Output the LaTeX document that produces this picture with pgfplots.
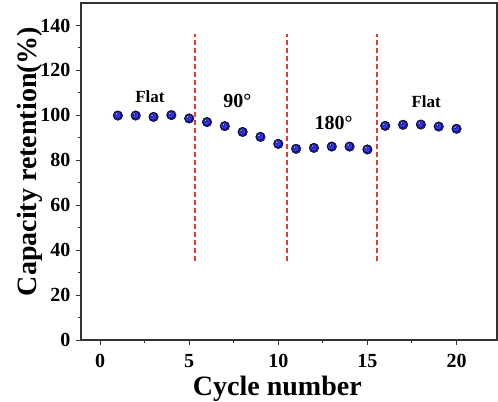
\documentclass[border=0pt]{standalone}
\usepackage{pgfplots}
\pgfplotsset{compat=1.18}
\usepackage{fontspec}
\setmainfont{Liberation Serif}
\definecolor{balldark}{RGB}{30,30,185}
\definecolor{ballmid}{RGB}{50,50,245}
\definecolor{balllight}{RGB}{185,185,255}
\definecolor{cutred}{RGB}{228,60,52}
\pgfplotstableread{
x y
1 99.9
2 99.9
3 99.3
4 100.1
5 98.6
6 97.0
7 95.2
8 92.6
9 90.4
10 87.3
11 85.1
12 85.5
13 86.1
14 86.1
15 84.8
16 95.3
17 95.8
18 95.9
19 95.0
20 94.0
}\retention
\begin{document}
\begin{tikzpicture}
\begin{axis}[
  scale only axis,
  width=416bp, height=337bp,
  xmin=-1.07, xmax=22.27, ymin=0, ymax=150,
  xtick={0,5,10,15,20}, ytick={0,20,...,140},
  minor x tick num=1, minor y tick num=1,
  tick align=outside,
  major tick length=5bp, minor tick length=3bp,
  xtick pos=bottom, ytick pos=left,
  axis line style={line width=1.1pt, black!80},
  tick style={line width=1pt, black!80},
  /pgf/number format/assume math mode=true,
  ticklabel style={font=\fontsize{20bp}{24bp}\selectfont\bfseries},
  xticklabel style={yshift=-6bp},
  yticklabel style={xshift=-2bp},
  xlabel={Cycle number},
  ylabel={Capacity retention(\%)},
  label style={font=\fontsize{28bp}{32bp}\selectfont\bfseries},
  xlabel style={at={(axis description cs:0.472,0)}, anchor=base, yshift=-55bp},
  ylabel style={at={(axis description cs:0,0.53)}, anchor=base, yshift=44bp},
  clip=false,
]
% dashed separators
\addplot[draw=cutred, line width=1.5bp, dash pattern=on 5bp off 3bp] coordinates {(5.33,35)(5.33,136)};
\addplot[draw=cutred, line width=1.5bp, dash pattern=on 5bp off 3bp] coordinates {(10.49,35)(10.49,136)};
\addplot[draw=cutred, line width=1.5bp, dash pattern=on 5bp off 3bp] coordinates {(15.55,35)(15.55,136)};
% spheres, built from layered circles
\addplot[only marks, mark=*, mark size=4.8bp, mark options={draw=none, fill=balldark}] table {\retention};
\addplot[only marks, mark=*, mark size=3.8bp, mark options={draw=none, fill=ballmid, xshift=-0.5bp, yshift=0.5bp}] table {\retention};
\addplot[only marks, mark=*, mark size=1.5bp, mark options={draw=none, fill=balllight, xshift=-1.5bp, yshift=1.6bp}] table {\retention};
\node[font=\fontsize{17bp}{20bp}\selectfont\bfseries] at (axis cs:2.8,108.2) {Flat};
\node[font=\fontsize{20bp}{24bp}\selectfont\bfseries] at (axis cs:7.7,106.5) {90°};
\node[font=\fontsize{20bp}{24bp}\selectfont\bfseries] at (axis cs:13.1,96.7) {180°};
\node[font=\fontsize{17bp}{20bp}\selectfont\bfseries] at (axis cs:18.3,106) {Flat};
\end{axis}
\pgfresetboundingbox
\path[use as bounding box] (-81bp,-62bp) rectangle (417bp,340bp);
\end{tikzpicture}
\end{document}
